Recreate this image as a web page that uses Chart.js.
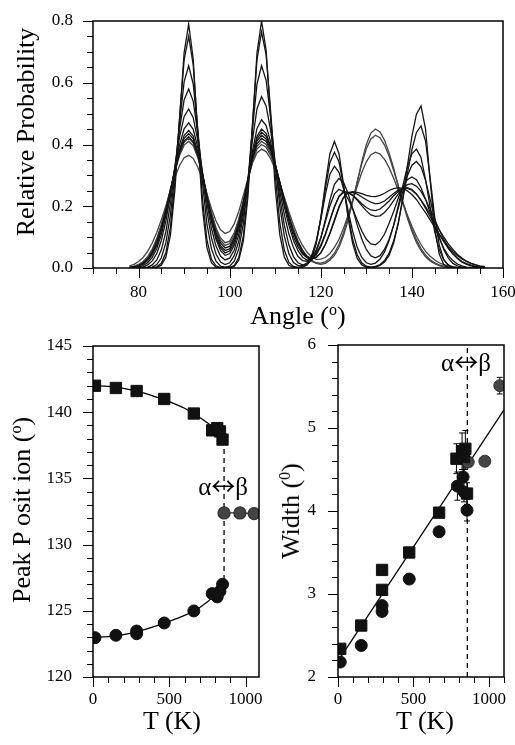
<!DOCTYPE html>
<html>
<head>
<meta charset="utf-8">
<title>Angle distributions, peak positions and widths</title>
<script src="https://cdn.jsdelivr.net/npm/chart.js@4.4.1/dist/chart.umd.min.js"></script>
<style>
    body { margin: 0; background: #fff; }
    #page { position: relative; width: 515px; height: 745px; background: #fff; overflow: hidden; }
    canvas { position: absolute; }
    .ttl {
        position: absolute;
        font-family: "Liberation Serif", "Times New Roman", serif;
        font-size: 26px;
        line-height: 26px;
        white-space: nowrap;
        color: #000;
        transform: translate(-50%, -50%);
    }
    .ttl.rot { transform: translate(-50%, -50%) rotate(-90deg); }
    .ttl sup { font-size: 16px; position: relative; top: -9px; vertical-align: baseline; line-height: 0; }
</style>
</head>
<body>
<div id="page">
    <canvas id="probChart" width="515" height="320" style="left:0;top:0"></canvas>
    <canvas id="peakChart" width="270" height="425" style="left:0;top:320px"></canvas>
    <canvas id="widthChart" width="245" height="425" style="left:270px;top:320px"></canvas>

    <div class="ttl rot" style="left:26px;top:132px">Relative Probability</div>
    <div class="ttl" style="left:298px;top:316px">Angle (<sup>o</sup>)</div>
    <div class="ttl rot" style="left:22px;top:510px">Peak P osit ion (<sup>o</sup>)</div>
    <div class="ttl" style="left:172px;top:721px">T (K)</div>
    <div class="ttl rot" style="left:291px;top:511px">Width (<sup>0</sup>)</div>
    <div class="ttl" style="left:425px;top:721px">T (K)</div>
</div>

<script>
// =============================
// DATA : ANGLE DISTRIBUTIONS
// =============================

const angles = [
    78, 79, 80, 81, 82, 83, 84, 85, 86, 87,
    88, 89, 90, 91, 92, 93, 94, 95, 96, 97,
    98, 99, 100, 101, 102, 103, 104, 105, 106, 107,
    108, 109, 110, 111, 112, 113, 114, 115, 116, 117,
    118, 119, 120, 121, 122, 123, 124, 125, 126, 127,
    128, 129, 130, 131, 132, 133, 134, 135, 136, 137,
    138, 139, 140, 141, 142, 143, 144, 145, 146, 147,
    148, 149, 150, 151, 152, 153, 154, 155, 156
];

const prob10K = [
    0, 0, 0, 0, 0, 0, .002, .009, .035, .107,
    .257, .48, .697, .79, .677, .427, .197, .067, .017, .003,
    0, 0, .001, .005, .025, .087, .23, .46, .697, .8,
    .706, .486, .26, .108, .035, .009, .002, .001, .003, .01,
    .031, .079, .162, .271, .37, .41, .37, .271, .162, .079,
    .031, .01, .003, .002, .003, .008, .019, .041, .081, .143,
    .228, .329, .426, .498, .525, .45, .284, .131, .045, .011,
    .002, 0, 0, 0, 0, 0, 0, 0, 0
];

const prob150K = [
    0, 0, 0, 0, 0, .001, .004, .015, .05, .133,
    .283, .487, .673, .75, .658, .443, .23, .092, .028, .007,
    .001, 0, .002, .008, .034, .103, .249, .464, .675, .765,
    .69, .506, .302, .147, .058, .018, .005, .002, .004, .012,
    .035, .083, .16, .257, .341, .375, .344, .265, .172, .093,
    .043, .017, .006, .003, .005, .011, .024, .048, .088, .146,
    .221, .305, .383, .439, .46, .411, .292, .166, .075, .027,
    .008, .002, 0, 0, 0, 0, 0, 0, 0
];

const prob290K = [
    0, 0, 0, 0, .001, .003, .011, .033, .082, .173,
    .309, .47, .603, .655, .596, .449, .28, .144, .062, .022,
    .006, .003, .006, .022, .062, .144, .28, .449, .596, .655,
    .608, .487, .337, .2, .103, .046, .018, .008, .008, .017,
    .041, .087, .156, .237, .304, .33, .31, .256, .186, .119,
    .067, .034, .017, .012, .016, .029, .052, .089, .139, .201,
    .266, .327, .37, .385, .358, .286, .198, .118, .06, .027,
    .01, .003, .001, 0, 0, 0, 0, 0, 0
];

const prob470K = [
    0, 0, 0, .001, .003, .01, .026, .059, .118, .209,
    .327, .45, .544, .58, .54, .436, .306, .186, .098, .045,
    .019, .011, .017, .04, .087, .17, .285, .413, .516, .555,
    .525, .445, .337, .228, .138, .075, .037, .017, .01, .012,
    .026, .052, .097, .156, .22, .271, .29, .277, .241, .192,
    .139, .094, .06, .039, .033, .04, .061, .093, .138, .193,
    .248, .298, .333, .345, .328, .284, .222, .158, .102, .059,
    .032, .015, .007, .003, .001, 0, 0, 0, 0
];

const prob670K = [
    0, 0, .001, .004, .01, .023, .047, .089, .152, .236,
    .332, .424, .49, .515, .487, .413, .313, .212, .128, .071,
    .038, .026, .032, .058, .109, .185, .281, .378, .452, .48,
    .461, .408, .332, .25, .173, .11, .066, .037, .024, .022,
    .033, .059, .098, .149, .201, .24, .255, .247, .224, .192,
    .155, .12, .093, .078, .075, .087, .11, .145, .183, .226,
    .262, .286, .295, .286, .26, .223, .179, .135, .096, .064,
    .04, .024, .013, .007, .003, .002, .001, 0, 0
];

const prob780K = [
    0, .001, .003, .008, .017, .034, .063, .108, .17, .245,
    .325, .399, .451, .47, .449, .391, .311, .226, .15, .093,
    .056, .041, .046, .074, .124, .196, .282, .365, .427, .45,
    .436, .395, .335, .266, .198, .138, .09, .056, .035, .026,
    .028, .042, .069, .107, .153, .199, .233, .248, .245, .235,
    .22, .202, .185, .172, .167, .169, .18, .197, .218, .239,
    .257, .27, .273, .265, .248, .222, .191, .157, .124, .093,
    .067, .046, .031, .019, .012, .007, .004, .002, .001
];

const prob820K = [
    .001, .002, .005, .012, .023, .043, .074, .12, .178, .248,
    .32, .384, .429, .445, .427, .376, .305, .227, .157, .101,
    .065, .049, .055, .083, .133, .203, .283, .362, .419, .44,
    .427, .391, .337, .273, .209, .151, .103, .068, .045, .033,
    .034, .047, .074, .111, .155, .198, .231, .245, .244, .236,
    .223, .208, .196, .188, .186, .191, .203, .217, .234, .248,
    .258, .26, .254, .24, .219, .194, .166, .137, .11, .085,
    .063, .046, .032, .021, .014, .009, .005, .003, .002
];

const prob840K = [
    .001, .003, .007, .014, .027, .047, .08, .125, .183, .25,
    .318, .379, .42, .435, .418, .371, .305, .231, .163, .108,
    .072, .057, .062, .091, .14, .207, .285, .358, .411, .43,
    .418, .386, .337, .279, .219, .163, .114, .077, .05, .035,
    .029, .034, .049, .076, .113, .156, .199, .229, .244, .244,
    .239, .23, .221, .213, .208, .21, .217, .229, .241, .252,
    .258, .258, .252, .239, .22, .199, .175, .149, .124, .1,
    .078, .06, .044, .032, .022, .015, .01, .006, .004
];

const prob860K = [
    .002, .004, .008, .016, .029, .052, .085, .13, .187, .251,
    .316, .373, .411, .425, .409, .366, .303, .233, .169, .116,
    .081, .065, .07, .098, .147, .212, .284, .353, .402, .42,
    .41, .379, .333, .278, .22, .166, .118, .082, .054, .038,
    .031, .034, .049, .076, .111, .152, .196, .228, .244, .247,
    .245, .241, .235, .232, .231, .235, .242, .251, .257, .26,
    .258, .25, .238, .222, .2, .179, .156, .132, .109, .088,
    .07, .053, .04, .029, .021, .015, .01, .006, .004
];

const prob870K = [
    .002, .005, .01, .019, .034, .057, .091, .137, .192, .255,
    .317, .37, .407, .42, .405, .364, .305, .239, .176, .124,
    .089, .073, .079, .106, .154, .216, .284, .348, .394, .41,
    .4, .371, .328, .276, .221, .169, .122, .084, .055, .035,
    .022, .015, .012, .015, .025, .041, .067, .105, .154, .214,
    .279, .344, .4, .437, .45, .441, .414, .373, .323, .267,
    .213, .162, .119, .083, .056, .036, .023, .014, .008, .004,
    .002, .001, 0, 0, 0, 0, 0, 0, 0
];

const prob970K = [
    .003, .006, .011, .021, .037, .061, .096, .141, .195, .255,
    .314, .364, .398, .41, .396, .358, .303, .24, .181, .13,
    .097, .082, .087, .114, .159, .219, .283, .343, .385, .4,
    .391, .364, .324, .274, .222, .171, .126, .088, .059, .038,
    .025, .017, .016, .02, .031, .048, .076, .114, .163, .219,
    .279, .337, .386, .418, .43, .422, .398, .362, .316, .266,
    .215, .168, .126, .091, .063, .042, .027, .017, .01, .006,
    .003, .002, .001, 0, 0, 0, 0, 0, 0
];

const prob1080K = [
    .007, .012, .021, .034, .054, .081, .115, .156, .202, .25,
    .295, .332, .357, .365, .355, .327, .287, .24, .193, .152,
    .124, .112, .118, .143, .183, .235, .29, .34, .373, .385,
    .377, .354, .319, .276, .229, .182, .139, .102, .073, .051,
    .036, .028, .029, .034, .047, .067, .093, .129, .172, .218,
    .265, .309, .344, .367, .375, .369, .352, .325, .291, .252,
    .211, .172, .135, .103, .076, .054, .038, .026, .017, .011,
    .006, .004, .002, .001, 0, 0, 0, 0, 0
];

const alphaCurves = [prob10K, prob150K, prob290K, prob470K, prob670K, prob780K, prob820K, prob840K, prob860K];
const betaCurves = [prob870K, prob970K, prob1080K];


// =============================
// DATA : PEAK POSITIONS
// =============================

const posSquareT = [13, 150, 286, 467, 661, 781, 814, 832, 849];
const posSquare = [142.0, 141.83, 141.6, 141.0, 139.9, 138.63, 138.8, 138.55, 137.93];

const posCircleT = [13, 150, 286, 286, 467, 661, 781, 814, 832, 849];
const posCircle = [122.97, 123.15, 123.47, 123.27, 124.08, 124.99, 126.3, 126.05, 126.47, 127.0];

const posBetaT = [859, 963, 1056];
const posBeta = [132.39, 132.39, 132.34];

const posFitSqT = [0, 100, 200, 300, 400, 500, 600, 700, 800, 850];
const posFitSq = [142.0, 141.95, 141.8, 141.55, 141.2, 140.8, 140.3, 139.6, 138.75, 138.2];

const posFitCiT = [0, 100, 200, 300, 400, 500, 600, 700, 800, 855];
const posFitCi = [123.0, 123.05, 123.2, 123.45, 123.8, 124.2, 124.65, 125.25, 126.2, 127.0];

const posJumpT = [859, 859];
const posJump = [137.9, 127.0];


// =============================
// DATA : PEAK WIDTHS
// =============================

const widSquareT = [15, 154, 292, 292, 472, 670, 785, 822, 835, 844, 855];
const widSquare = [2.34, 2.62, 3.29, 3.05, 3.50, 3.98, 4.63, 4.72, 4.65, 4.75, 4.21];
const widSquareErr = [0, 0, 0, 0, 0, 0, 0.18, 0.22, 0.15, 0.22, 0.13];

const widCircleT = [15, 154, 292, 292, 472, 670, 791, 829, 835, 855];
const widCircle = [2.18, 2.38, 2.86, 2.79, 3.18, 3.75, 4.30, 4.41, 4.23, 4.01];
const widCircleErr = [0, 0, 0, 0, 0, 0, 0.17, 0.15, 0.12, 0.13];

const widBetaT = [863, 973, 1072];
const widBeta = [4.59, 4.60, 5.51];
const widBetaErr = [0.05, 0.03, 0.1];

const widFitT = [0, 1100];
const widFit = [2.19, 5.22];

const widJumpT = [857, 857];
const widJump = [2, 6];


// =============================
// HELPERS
// =============================

const SERIF = "'Liberation Serif', 'Times New Roman', serif";
Chart.defaults.font.family = SERIF;
Chart.defaults.color = "#000";

function pts(xs, ys) {
    return xs.map((x, i) => ({ x: x, y: ys[i] }));
}

// axis boxes get a fixed size and no label overhang, so the plot areas land where they should
function xAxis(min, max, step, label, height, pad) {
    return {
        type: "linear",
        min: min,
        max: max,
        grid: { display: false, drawTicks: false },
        border: { display: false },
        ticks: {
            stepSize: step, autoSkip: false, includeBounds: false, maxRotation: 0,
            padding: pad, color: "#000", font: { size: 17 }, callback: label
        },
        afterFit: s => {
            s.height = height;
            s.paddingLeft = 0;
            s.paddingRight = 0;
        }
    };
}

function yAxis(min, max, step, label, width, pad) {
    return {
        type: "linear",
        min: min,
        max: max,
        grid: { display: false, drawTicks: false },
        border: { display: false },
        ticks: {
            stepSize: step, autoSkip: false, includeBounds: false,
            padding: pad, color: "#000", font: { size: 17 }, callback: label
        },
        afterFit: s => {
            s.width = width;
            s.paddingTop = 0;
            s.paddingBottom = 0;
        }
    };
}

// frame round the plot + outward tick marks (long ones carry a label)
const boxTicks = {
    id: "boxTicks",
    afterDraw(chart) {
        const ctx = chart.ctx;
        const area = chart.chartArea;
        const xs = chart.scales.x;
        const ys = chart.scales.y;
        ctx.save();
        ctx.strokeStyle = "#000";
        ctx.lineWidth = 1;
        xs.ticks.forEach(t => {
            const px = Math.round(xs.getPixelForValue(t.value)) + 0.5;
            const len = t.label === "" ? 6 : 10;
            ctx.beginPath();
            ctx.moveTo(px, area.bottom);
            ctx.lineTo(px, area.bottom + len);
            ctx.stroke();
        });
        ys.ticks.forEach(t => {
            const py = Math.round(ys.getPixelForValue(t.value)) + 0.5;
            const len = t.label === "" ? 6 : 10;
            ctx.beginPath();
            ctx.moveTo(area.left, py);
            ctx.lineTo(area.left - len, py);
            ctx.stroke();
        });
        ctx.lineWidth = 1.5;
        ctx.strokeRect(area.left, area.top, area.right - area.left, area.bottom - area.top);
        ctx.restore();
    }
};

// vertical error bars from dataset.errors
const errorBars = {
    id: "errorBars",
    beforeDatasetsDraw(chart) {
        const ctx = chart.ctx;
        const xs = chart.scales.x;
        const ys = chart.scales.y;
        ctx.save();
        ctx.strokeStyle = "#000";
        ctx.lineWidth = 1;
        chart.data.datasets.forEach(ds => {
            if (!ds.errors) return;
            ds.data.forEach((p, i) => {
                const e = ds.errors[i];
                if (!e) return;
                const x = xs.getPixelForValue(p.x);
                const y1 = ys.getPixelForValue(p.y - e);
                const y2 = ys.getPixelForValue(p.y + e);
                ctx.beginPath();
                ctx.moveTo(x, y1); ctx.lineTo(x, y2);
                ctx.moveTo(x - 3, y1); ctx.lineTo(x + 3, y1);
                ctx.moveTo(x - 3, y2); ctx.lineTo(x + 3, y2);
                ctx.stroke();
            });
        });
        ctx.restore();
    }
};

// "α↔β" note placed in data coordinates (thin wide arrow from the CJK font)
const phaseLabel = {
    id: "phaseLabel",
    afterDatasetsDraw(chart, args, opts) {
        if (!opts || opts.x === undefined) return;
        const ctx = chart.ctx;
        const cx = chart.scales.x.getPixelForValue(opts.x);
        const cy = chart.scales.y.getPixelForValue(opts.y);
        const parts = [
            { text: "α", font: "25px " + SERIF },
            { text: "↔", font: "24px 'Noto Sans CJK SC'" },
            { text: "β", font: "25px " + SERIF }
        ];
        ctx.save();
        ctx.fillStyle = "#000";
        ctx.textAlign = "left";
        ctx.textBaseline = "alphabetic";
        let total = 0;
        parts.forEach(p => {
            ctx.font = p.font;
            p.w = ctx.measureText(p.text).width;
            total += p.w;
        });
        let x = cx - total / 2;
        parts.forEach(p => {
            ctx.font = p.font;
            ctx.fillText(p.text, x, cy + 8);
            x += p.w;
        });
        ctx.restore();
    }
};

const common = {
    responsive: false,
    animation: false,
    devicePixelRatio: 1,
    events: []
};


// =============================
// TOP : RELATIVE PROBABILITY
// =============================

const probSets = [];

alphaCurves.forEach(c => {
    probSets.push({
        data: pts(angles, c),
        showLine: true,
        borderColor: "#151515",
        borderWidth: 1.3,
        pointRadius: 0
    });
});

betaCurves.forEach(c => {
    probSets.push({
        data: pts(angles, c),
        showLine: true,
        borderColor: "#444",
        borderWidth: 1.3,
        pointRadius: 0
    });
});

new Chart(document.getElementById("probChart"), {
    type: "scatter",
    data: { datasets: probSets },
    options: Object.assign({}, common, {
        layout: { padding: { left: 0, top: 21, right: 12, bottom: 0 } },
        plugins: { legend: { display: false }, tooltip: { enabled: false } },
        scales: {
            x: xAxis(70, 160, 5, v => (v % 20 === 0 && v >= 80) ? String(v) : "", 52, 14),
            y: yAxis(0, 0.8, 0.05, v => Math.abs(v * 5 - Math.round(v * 5)) < 1e-6 ? v.toFixed(1) : "", 93, 20)
        }
    }),
    plugins: [boxTicks]
});


// =============================
// BOTTOM LEFT : PEAK POSITION
// =============================

new Chart(document.getElementById("peakChart"), {
    type: "scatter",
    data: {
        datasets: [
            {
                data: pts(posSquareT, posSquare),
                pointStyle: "rect", pointRadius: 8,
                backgroundColor: "#111", borderColor: "#111", borderWidth: 1,
                order: 1
            },
            {
                data: pts(posCircleT, posCircle),
                pointStyle: "circle", pointRadius: 6,
                backgroundColor: "#111", borderColor: "#111", borderWidth: 1,
                order: 1
            },
            {
                data: pts(posBetaT, posBeta),
                showLine: true, borderColor: "#222", borderWidth: 1.3,
                pointStyle: "circle", pointRadius: 6,
                pointBackgroundColor: "#444", pointBorderColor: "#333",
                order: 1
            },
            {
                data: pts(posFitSqT, posFitSq),
                showLine: true, cubicInterpolationMode: "monotone",
                borderColor: "#000", borderWidth: 1.3, pointRadius: 0,
                order: 2
            },
            {
                data: pts(posFitCiT, posFitCi),
                showLine: true, cubicInterpolationMode: "monotone",
                borderColor: "#000", borderWidth: 1.3, pointRadius: 0,
                order: 2
            },
            {
                data: pts(posJumpT, posJump),
                showLine: true, borderDash: [5, 4],
                borderColor: "#000", borderWidth: 1.3, pointRadius: 0,
                order: 3
            }
        ]
    },
    options: Object.assign({}, common, {
        layout: { padding: { left: 0, top: 26, right: 11, bottom: 0 } },
        plugins: {
            legend: { display: false },
            tooltip: { enabled: false },
            phaseLabel: { x: 853, y: 134.35 }
        },
        scales: {
            // 1088, not 1090: an almost-whole range/step makes Chart.js respace the ticks
            x: xAxis(0, 1088, 100, v => v % 500 === 0 ? String(v) : "", 68, 12),
            y: yAxis(120, 145, 1, v => v % 5 === 0 ? String(v) : "", 93, 21)
        }
    }),
    plugins: [boxTicks, phaseLabel]
});


// =============================
// BOTTOM RIGHT : PEAK WIDTH
// =============================

new Chart(document.getElementById("widthChart"), {
    type: "scatter",
    data: {
        datasets: [
            {
                data: pts(widSquareT, widSquare),
                errors: widSquareErr,
                pointStyle: "rect", pointRadius: 8,
                backgroundColor: "#111", borderColor: "#111", borderWidth: 1,
                order: 1
            },
            {
                data: pts(widCircleT, widCircle),
                errors: widCircleErr,
                pointStyle: "circle", pointRadius: 6,
                backgroundColor: "#111", borderColor: "#111", borderWidth: 1,
                order: 1
            },
            {
                data: pts(widBetaT, widBeta),
                errors: widBetaErr,
                pointStyle: "circle", pointRadius: 6,
                backgroundColor: "#444", borderColor: "#333", borderWidth: 1,
                order: 1
            },
            {
                data: pts(widFitT, widFit),
                showLine: true, borderColor: "#000", borderWidth: 1.3, pointRadius: 0,
                order: 2
            },
            {
                data: pts(widJumpT, widJump),
                showLine: true, borderDash: [5, 4],
                borderColor: "#000", borderWidth: 1.3, pointRadius: 0,
                order: 3
            }
        ]
    },
    options: Object.assign({}, common, {
        layout: { padding: { left: 0, top: 25, right: 11, bottom: 0 } },
        plugins: {
            legend: { display: false },
            tooltip: { enabled: false },
            phaseLabel: { x: 848, y: 5.78 }
        },
        scales: {
            x: xAxis(0, 1100, 100, v => v % 500 === 0 ? String(v) : "", 68, 12),
            y: yAxis(2, 6, 0.2, v => Math.abs(v - Math.round(v)) < 1e-6 ? String(Math.round(v)) : "", 68, 22)
        }
    }),
    plugins: [errorBars, boxTicks, phaseLabel]
});
</script>
</body>
</html>
